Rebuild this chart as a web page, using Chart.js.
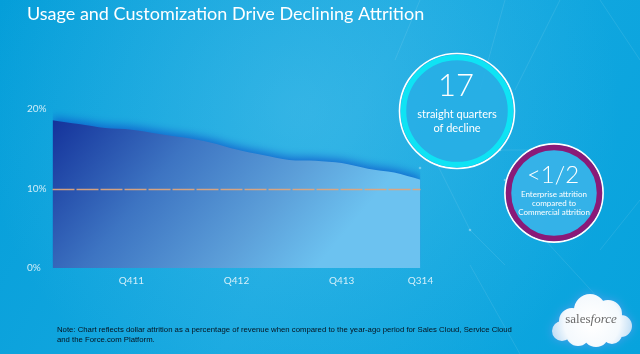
<!DOCTYPE html>
<html>
<head>
<meta charset="utf-8">
<script src="https://cdn.jsdelivr.net/npm/chart.js@4"></script>
<style>
  html, body { margin: 0; padding: 0; background: #0aa2dc; }
  #wrap { width: 640px; height: 354px; position: relative; }
</style>
</head>
<body>
<div id="wrap"><canvas id="c" width="640" height="354"></canvas></div>
<script>
// data
const quarters = ['Q111','Q211','Q311','Q411','Q112','Q212','Q312','Q412','Q113','Q213','Q313','Q413','Q114','Q214','Q314'];
const attrition = [18.6, 18.1, 17.6, 17.4, 16.9, 16.4, 15.8, 14.9, 14.2, 13.6, 13.5, 13.2, 12.5, 12.0, 11.1];
const shownQuarters = ['Q411','Q412','Q413','Q314'];
const yTicks = [0, 10, 20];
const refLine = 10;

const title = 'Usage and Customization Drive Declining Attrition';
const noteLines = [
  'Note: Chart reflects dollar attrition as a percentage of revenue when compared to the year-ago period for Sales Cloud, Service Cloud',
  'and the Force.com Platform.'
];

function fitFont(ctx, text, width, family, weight, start) {
  let size = start;
  ctx.font = weight + ' ' + size + 'px ' + family;
  while (ctx.measureText(text).width > width && size > 5) {
    size -= 0.25;
    ctx.font = weight + ' ' + size + 'px ' + family;
  }
  return size;
}

function ring(ctx, x, y, r, color, lw) {
  ctx.beginPath(); ctx.arc(x, y, r, 0, Math.PI * 2);
  ctx.strokeStyle = color; ctx.lineWidth = lw; ctx.stroke();
}

const slideBg = {
  id: 'slideBg',
  beforeDraw(chart) {
    const ctx = chart.ctx, w = chart.width, h = chart.height;
    ctx.save();
    let g = ctx.createLinearGradient(0, 0, w, h);
    g.addColorStop(0, '#049ed9');
    g.addColorStop(0.5, '#16a8e0');
    g.addColorStop(1, '#07a3dd');
    ctx.fillStyle = g; ctx.fillRect(0, 0, w, h);
    let rg = ctx.createRadialGradient(300, 110, 10, 300, 110, 320);
    rg.addColorStop(0, 'rgba(110,205,240,0.35)');
    rg.addColorStop(1, 'rgba(110,205,240,0)');
    ctx.fillStyle = rg; ctx.fillRect(0, 0, w, h);
    // faint network lines
    ctx.strokeStyle = 'rgba(255,255,255,0.12)'; ctx.lineWidth = 0.8;
    const segs = [[420,0,395,60],[505,0,480,90],[560,0,515,90],[430,150,470,230],[470,230,505,265],
                  [500,150,545,150],[545,240,600,300],[600,250,640,200],[470,265,520,354],[600,0,640,60]];
    segs.forEach(s => { ctx.beginPath(); ctx.moveTo(s[0], s[1]); ctx.lineTo(s[2], s[3]); ctx.stroke(); });
    ctx.fillStyle = 'rgba(255,255,255,0.35)';
    [[420,168],[500,150],[515,195],[505,180],[545,240],[470,230]].forEach(p => {
      ctx.beginPath(); ctx.arc(p[0], p[1], 1.3, 0, Math.PI * 2); ctx.fill();
    });
    ctx.restore();
  },
  beforeDatasetsDraw(chart) {
    const ctx = chart.ctx;
    ctx.save();
    ctx.shadowColor = 'rgba(10,80,200,0.75)';
    ctx.shadowBlur = 10;
    ctx.shadowOffsetY = -3;
  },
  afterDatasetsDraw(chart) {
    const ctx = chart.ctx;
    ctx.restore();
    // dashed 10% line over the area
    const { left, right } = chart.chartArea;
    const y = Math.round(chart.scales.y.getPixelForValue(refLine)) + 0.5;
    ctx.save();
    ctx.strokeStyle = 'rgba(222,165,125,0.95)';
    ctx.lineWidth = 1.5;
    ctx.setLineDash([22, 2]);
    ctx.beginPath(); ctx.moveTo(left, y); ctx.lineTo(right, y); ctx.stroke();
    ctx.restore();
  },
  afterDraw(chart) {
    const ctx = chart.ctx;
    ctx.save();
    // title
    ctx.fillStyle = '#ffffff';
    ctx.textBaseline = 'alphabetic';
    ctx.textAlign = 'left';
    fitFont(ctx, title, 398, 'Lato, sans-serif', '400', 21);
    ctx.fillText(title, 27, 20);

    // circle 1
    ctx.fillStyle = 'rgba(40,175,230,0.9)';
    ctx.beginPath(); ctx.arc(457, 111, 52, 0, Math.PI * 2); ctx.fill();
    ring(ctx, 457, 111, 57.5, '#ffffff', 1.6);
    ring(ctx, 457, 111, 53.5, '#0fe3f4', 5.5);
    ctx.fillStyle = '#ffffff'; ctx.textAlign = 'center'; ctx.textBaseline = 'middle';
    ctx.font = '300 31px Lato, sans-serif';
    ctx.fillText('17', 456, 86);
    ctx.font = '400 11px Lato, sans-serif';
    ctx.fillText('straight quarters', 457, 114);
    ctx.fillText('of decline', 457, 128);

    // circle 2
    ctx.fillStyle = 'rgba(55,178,232,0.95)';
    ctx.beginPath(); ctx.arc(554, 193, 44, 0, Math.PI * 2); ctx.fill();
    ring(ctx, 554, 193, 49, '#ffffff', 1.8);
    ring(ctx, 554, 193, 45.5, '#8a1a78', 5.5);
    ctx.fillStyle = '#ffffff';
    ctx.font = '300 24px Lato, sans-serif';
    ctx.fillText('<1/2', 553, 175);
    ctx.font = '400 8px Lato, sans-serif';
    ctx.fillText('Enterprise attrition', 554, 194);
    ctx.fillText('compared to', 554, 203);
    ctx.fillText('Commercial attrition', 554, 212);

    // note
    ctx.fillStyle = '#06121e'; ctx.textAlign = 'left';
    fitFont(ctx, noteLines[0], 467, '"Liberation Sans", Arial, sans-serif', '400', 10);
    ctx.fillText(noteLines[0], 57, 330);
    ctx.fillText(noteLines[1], 57, 340);

    // salesforce cloud
    ctx.save();
    ctx.shadowColor = 'rgba(80,160,235,0.95)'; ctx.shadowBlur = 10;
    let cg = ctx.createRadialGradient(592, 322, 5, 592, 322, 40);
    cg.addColorStop(0, '#ffffff'); cg.addColorStop(0.65, '#f4f9fd'); cg.addColorStop(1, '#c4e0f6');
    ctx.fillStyle = cg;
    ctx.beginPath();
    [[572,321,13],[590,310,16],[608,314,14],[621,326,11],[562,331,10],[578,334,12],[596,334,13],[612,334,10]].forEach(c => {
      ctx.moveTo(c[0] + c[2], c[1]); ctx.arc(c[0], c[1], c[2], 0, Math.PI * 2);
    });
    ctx.fill();
    ctx.restore();
    ctx.fillStyle = '#6a6a6a'; ctx.textAlign = 'left';
    ctx.font = '13px "Liberation Serif", serif';
    const wSales = ctx.measureText('sales').width;
    ctx.font = 'italic 13px "Liberation Serif", serif';
    const wForce = ctx.measureText('force').width;
    const x0 = 591 - (wSales + wForce) / 2;
    ctx.font = '13px "Liberation Serif", serif';
    ctx.fillText('sales', x0, 320);
    ctx.font = 'italic 13px "Liberation Serif", serif';
    ctx.fillText('force', x0 + wSales, 320);
    ctx.restore();
  }
};

const canvas = document.getElementById('c');
new Chart(canvas, {
  type: 'line',
  data: {
    labels: quarters,
    datasets: [{
      data: attrition,
      fill: 'origin',
      tension: 0.3,
      borderWidth: 0,
      pointRadius: 0,
      borderColor: 'rgba(0,0,0,0)',
      backgroundColor(context) {
        const area = context.chart.chartArea;
        if (!area) return '#3a78c4';
        const g = context.chart.ctx.createLinearGradient(area.left, area.top + 8, area.left + 230, area.bottom + 40);
        g.addColorStop(0, '#13319a');
        g.addColorStop(0.4, '#3d74c2');
        g.addColorStop(0.75, '#5c9fd9');
        g.addColorStop(1, '#6cc2f0');
        return g;
      }
    }]
  },
  options: {
    responsive: false,
    animation: false,
    events: [],
    layout: { padding: { top: 109, right: 219.5, bottom: 0, left: 27 } },
    plugins: { legend: { display: false }, tooltip: { enabled: false } },
    scales: {
      x: {
        offset: false,
        grid: { display: false, drawTicks: false },
        border: { display: false },
        afterFit(scale) { scale.height = 86; },
        ticks: {
          autoSkip: false, maxRotation: 0, padding: 7,
          color: 'rgba(255,255,255,0.8)',
          font: { family: 'Lato, sans-serif', size: 10 },
          callback: (v, i) => shownQuarters.includes(quarters[i]) ? quarters[i] : ''
        }
      },
      y: {
        min: 0, max: 20,
        afterBuildTicks(scale) { scale.ticks = yTicks.map(v => ({ value: v })); },
        grid: { display: false, drawTicks: false },
        border: { display: false },
        afterFit(scale) { scale.width = 25.5; },
        ticks: {
          crossAlign: 'far', padding: 0,
          color: 'rgba(255,255,255,0.8)',
          font: { family: 'Lato, sans-serif', size: 10 },
          callback: v => v + '%'
        }
      }
    }
  },
  plugins: [slideBg]
});
</script>
</body>
</html>
